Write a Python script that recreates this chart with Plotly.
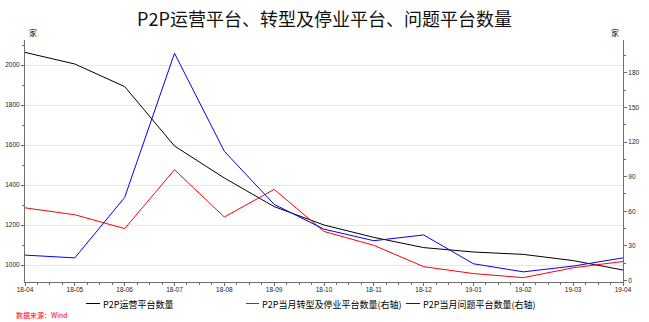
import plotly.graph_objects as go

months = ["18-04", "18-05", "18-06", "18-07", "18-08", "18-09", "18-10",
          "18-11", "18-12", "19-01", "19-02", "19-03", "19-04"]
operating = [2063, 2005, 1892, 1595, 1435, 1292, 1200, 1138, 1087, 1065, 1053, 1022, 975]
transformed = [63, 57, 45, 96, 55, 79, 42.5, 30.5, 12, 6, 2.5, 11, 16.5]
problem = [22, 19.6, 72, 197, 112, 66, 44.5, 34.5, 39.5, 14.5, 7.5, 12.5, 19.6]

series_names = ["P2P运营平台数量", "P2P当月转型及停业平台数量(右轴)", "P2P当月问题平台数量(右轴)"]
series_colors = ["#000000", "#ff0000", "#0000ff"]

left_ticks = [1000, 1200, 1400, 1600, 1800, 2000]
right_ticks = [0, 30, 60, 90, 120, 150, 180]

x = list(range(len(months)))
FONT = "Noto Sans CJK SC, Noto Sans, sans-serif"

W, H = 649, 322
L, R, T, B = 25, 26, 40, 40
PW, PH = W - L - R, H - T - B


def px_x(px):
    return (px - L) / PW


def px_y(py):
    return (H - B - py) / PH


fig = go.Figure()
fig.add_trace(go.Scatter(x=x, y=operating, mode="lines", name=series_names[0],
                         line=dict(color=series_colors[0], width=1), yaxis="y"))
fig.add_trace(go.Scatter(x=x, y=transformed, mode="lines", name=series_names[1],
                         line=dict(color=series_colors[1], width=1), yaxis="y2"))
fig.add_trace(go.Scatter(x=x, y=problem, mode="lines", name=series_names[2],
                         line=dict(color=series_colors[2], width=1), yaxis="y2"))

axis_line = "#6e6e6e"
tick_font = dict(family="Liberation Sans, Arial, sans-serif", size=6.5, color="#222222")

fig.update_layout(
    width=W, height=H,
    margin=dict(l=L, r=R, t=T, b=B, autoexpand=False),
    paper_bgcolor="white", plot_bgcolor="white",
    font=dict(family=FONT, color="#000000"),
    showlegend=False,
    title=dict(text="P2P运营平台、转型及停业平台、问题平台数量", x=0.5, xanchor="center",
               y=0.94, yanchor="middle", font=dict(family=FONT, size=18, color="#111111")),
    xaxis=dict(range=[0, 12], tickvals=x, ticktext=months, showgrid=False, zeroline=False,
               showline=True, linecolor=axis_line, linewidth=1,
               ticks="outside", ticklen=3, tickcolor=axis_line, tickfont=tick_font,
               ticklabelstandoff=-2,
               minor=dict(dtick=0.25, ticks="outside", ticklen=2, tickcolor=axis_line,
                          showgrid=False)),
    yaxis=dict(range=[915, 2125], tickvals=left_ticks, showgrid=True, gridcolor="#e6e6e6",
               gridwidth=1, zeroline=False, showline=True, linecolor=axis_line, linewidth=1,
               ticks="outside", ticklen=3, tickcolor=axis_line, tickfont=tick_font,
               minor=dict(dtick=100, tick0=0, ticks="outside", ticklen=2, tickcolor=axis_line,
                          showgrid=False)),
    yaxis2=dict(range=[-1.3, 208.5], tickvals=right_ticks, overlaying="y", side="right",
                showgrid=False, zeroline=False, showline=True, linecolor=axis_line, linewidth=1,
                ticks="outside", ticklen=3, tickcolor=axis_line, tickfont=tick_font,
                minor=dict(dtick=15, tick0=0, ticks="outside", ticklen=2, tickcolor=axis_line,
                           showgrid=False)),
)

# manual legend (line sample + label)
legend_line_x = [(86, 100), (246, 259), (406, 420)]
legend_y = 303.5
for (x0, x1), name, color in zip(legend_line_x, series_names, series_colors):
    fig.add_shape(type="line", xref="paper", yref="paper",
                  x0=px_x(x0), x1=px_x(x1), y0=px_y(legend_y), y1=px_y(legend_y),
                  line=dict(color=color, width=1))
    fig.add_annotation(text=name, xref="paper", yref="paper", x=px_x(x1 + 1), y=px_y(legend_y + 1),
                       xanchor="left", yanchor="middle", showarrow=False,
                       font=dict(family=FONT, size=9, color="#000000"))

fig.add_annotation(text="家", xref="paper", yref="paper", x=0.003, y=1.0, xanchor="left",
                   yanchor="bottom", showarrow=False, font=dict(family=FONT, size=8))
fig.add_annotation(text="家", xref="paper", yref="paper", x=0.997, y=1.0, xanchor="right",
                   yanchor="bottom", showarrow=False, font=dict(family=FONT, size=8))
fig.add_annotation(text="数据来源：Wind", xref="paper", yref="paper", x=px_x(14),
                   y=px_y(314.5), xanchor="left", yanchor="middle", showarrow=False,
                   font=dict(family=FONT, size=7, color="#ff0000"))

fig.write_html("out.html")
